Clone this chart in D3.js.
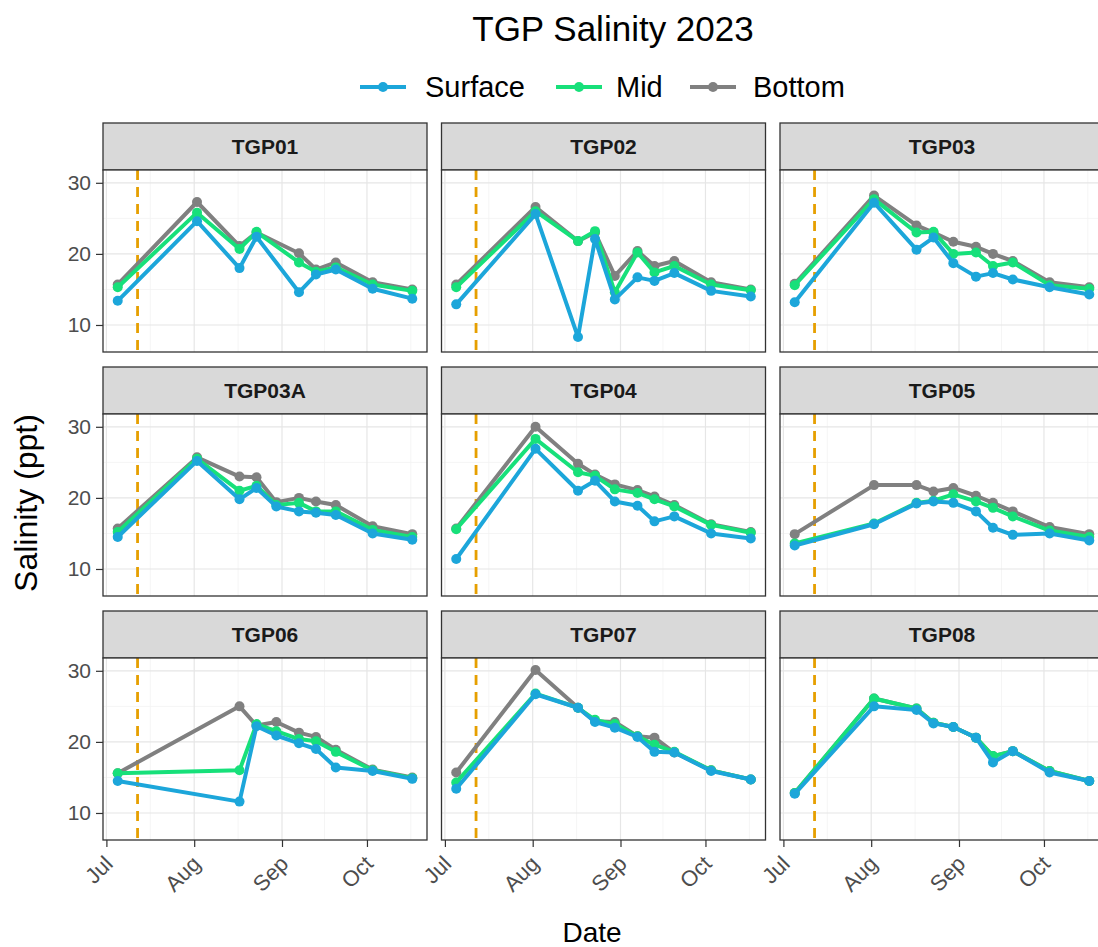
<!DOCTYPE html>
<html>
<head>
<meta charset="utf-8">
<script src="https://cdn.jsdelivr.net/npm/d3@7"></script>
<style>
  html, body { margin: 0; padding: 0; background: #ffffff; }
  svg { display: block; font-family: "Liberation Sans", Arial, sans-serif; }
</style>
</head>
<body>
<svg id="chart" width="1098" height="947"></svg>
<script>
// Sampling dates (same for every station; null = not sampled)
const sampleDates = ["2023-07-05", "2023-08-02", "2023-08-17", "2023-08-23", "2023-08-30",
                     "2023-09-07", "2023-09-13", "2023-09-20", "2023-10-03", "2023-10-17"];
const stations = ["TGP01", "TGP02", "TGP03", "TGP03A", "TGP04", "TGP05", "TGP06", "TGP07", "TGP08"];
const depths = ["Surface", "Mid", "Bottom"];
const depthColors = ["#1ca6da", "#17e07a", "#808080"];
const referenceDate = "2023-07-12";
const yTicks = [10, 20, 30];
const monthTicks = ["2023-07-01", "2023-08-01", "2023-09-01", "2023-10-01"];

// Salinity (ppt) per station, one row per station in the order above
const surfaceSalinity = [
  [13.4, 24.6, 18.0, 22.4, null, 14.6, 17.1, 17.8, 15.1, 13.7],
  [12.9, 25.6, 8.3, 22.1, 13.6, 16.7, 16.2, 17.3, 14.8, 14.0],
  [13.2, 27.2, 20.6, 22.3, 18.7, 16.8, 17.3, 16.4, 15.3, 14.3],
  [14.5, 25.2, 19.8, 21.4, 18.8, 18.1, 17.9, 17.6, 15.0, 14.1],
  [11.4, 26.9, 21.0, 22.4, 19.5, 18.9, 16.7, 17.4, 15.0, 14.3],
  [13.3, 16.3, 19.2, 19.5, 19.3, 18.1, 15.8, 14.8, 15.0, 14.0],
  [14.5, null, 11.6, 22.2, 20.9, 19.8, 19.0, 16.4, 15.9, 14.8],
  [13.4, 26.7, 24.8, 22.8, 22.0, 20.7, 18.6, 18.5, 15.9, 14.7],
  [12.7, 25.0, 24.5, 22.6, 22.1, 20.6, 17.1, 18.7, 15.7, 14.5]
];
const midSalinity = [
  [15.3, 25.8, 20.7, 23.1, null, 18.8, 17.5, 18.1, 15.7, 14.8],
  [15.3, 26.0, 21.8, 23.2, 14.6, 20.2, 17.4, 18.3, 15.7, 14.9],
  [15.6, 27.7, 23.0, 23.1, 20.0, 20.2, 18.3, 18.8, 15.6, 15.1],
  [15.2, 25.5, 21.0, 21.7, 19.0, 19.3, 18.1, 18.1, 15.5, 14.5],
  [15.6, 28.3, 23.6, 23.1, 21.2, 20.7, 19.8, 18.8, 16.2, 15.1],
  [13.6, 16.4, 19.3, 19.6, 20.5, 19.5, 18.6, 17.4, 15.4, 14.5],
  [15.6, null, 16.0, 22.5, 21.5, 20.4, 20.1, 18.6, 16.0, 14.9],
  [14.3, 26.8, 24.8, 23.1, 22.5, 20.8, 19.6, 18.6, 16.0, 14.7],
  [12.8, 26.1, 24.7, 22.7, 22.1, 20.6, 18.0, 18.7, 15.9, 14.5]
];
const bottomSalinity = [
  [15.7, 27.3, 21.1, 23.0, null, 20.1, 17.8, 18.8, 16.0, 15.0],
  [15.7, 26.6, 21.8, 23.0, 16.9, 20.4, 18.3, 19.0, 16.0, 15.0],
  [15.8, 28.2, 24.0, 23.0, 21.7, 21.0, 20.0, 19.0, 16.0, 15.3],
  [15.7, 25.7, 23.0, 22.9, 19.4, 20.0, 19.5, 19.0, 16.0, 14.9],
  [15.7, 30.0, 24.8, 23.3, 21.9, 21.1, 20.2, 19.0, 16.3, 15.2],
  [14.9, 21.8, 21.8, 20.9, 21.4, 20.3, 19.3, 18.1, 15.9, 14.9],
  [15.6, null, 25.0, 22.3, 22.8, 21.3, 20.7, 18.9, 16.1, 15.0],
  [15.7, 30.1, 24.8, 22.9, 22.8, 20.8, 20.6, 18.5, 16.0, 14.7],
  [12.8, 26.1, 24.7, 22.7, 22.1, 20.6, 18.0, 18.7, 15.9, 14.5]
];

const parse = d3.timeParse("%Y-%m-%d");
const dates = sampleDates.map(parse);
const seriesByDepth = [surfaceSalinity, midSalinity, bottomSalinity];

// ---- layout (facet grid 3 x 3) ----
const svg = d3.select("#chart");
const colLeft = [103, 441.5, 780];
const rowTop = [123, 367, 611];
const panelW = 324, stripH = 47, plotH = 182;

// shared scales, time axis padded by 5% on each side
const dExt = d3.extent(dates);
const pad = (dExt[1] - dExt[0]) * 0.05;
const x = d3.scaleTime()
  .domain([new Date(+dExt[0] - pad), new Date(+dExt[1] + pad)])
  .range([0, panelW]);
const y = d3.scaleLinear().domain([6.2, 31.8]).range([plotH, 0]);

const majorX = monthTicks.map(parse);
const minorX = [];
for (let i = 0; i < majorX.length; i++) {
  const next = i + 1 < majorX.length ? majorX[i + 1] : d3.timeMonth.offset(majorX[i], 1);
  minorX.push(new Date((+majorX[i] + +next) / 2));
}
const minorY = [15, 25];

// title
svg.append("text")
  .attr("x", 613).attr("y", 41)
  .attr("text-anchor", "middle")
  .attr("font-size", 35)
  .attr("fill", "#000")
  .text("TGP Salinity 2023");

// legend
const legendItems = [
  { label: depths[0], color: depthColors[0], x0: 360, tx: 425 },
  { label: depths[1], color: depthColors[1], x0: 556, tx: 616 },
  { label: depths[2], color: depthColors[2], x0: 690, tx: 753 }
];
const lg = svg.append("g");
legendItems.forEach(it => {
  lg.append("line").attr("x1", it.x0).attr("x2", it.x0 + 46)
    .attr("y1", 87).attr("y2", 87)
    .attr("stroke", it.color).attr("stroke-width", 4);
  lg.append("circle").attr("cx", it.x0 + 23).attr("cy", 87).attr("r", 5).attr("fill", it.color);
  lg.append("text").attr("x", it.tx).attr("y", 97)
    .attr("font-size", 29).attr("fill", "#000").text(it.label);
});

// axis titles
svg.append("text")
  .attr("transform", "translate(37,503) rotate(-90)")
  .attr("text-anchor", "middle")
  .attr("font-size", 32)
  .attr("fill", "#000")
  .text("Salinity (ppt)");
svg.append("text")
  .attr("x", 592).attr("y", 942)
  .attr("text-anchor", "middle")
  .attr("font-size", 28)
  .attr("fill", "#000")
  .text("Date");

const line = d3.line()
  .defined(d => d.v != null)
  .x(d => x(d.date))
  .y(d => y(d.v));

stations.forEach((name, si) => {
  const col = si % 3, row = Math.floor(si / 3);
  const gx = colLeft[col], gy = rowTop[row];
  const g = svg.append("g").attr("transform", `translate(${gx},${gy})`);

  // strip
  g.append("rect").attr("x", 0).attr("y", 0).attr("width", panelW).attr("height", stripH)
    .attr("fill", "#d9d9d9").attr("stroke", "#333333").attr("stroke-width", 1.3);
  g.append("text").attr("x", panelW / 2).attr("y", stripH / 2 + 7.5)
    .attr("text-anchor", "middle").attr("font-size", 21).attr("font-weight", "bold")
    .attr("fill", "#1a1a1a").text(name);

  const p = g.append("g").attr("transform", `translate(0,${stripH})`);
  p.append("rect").attr("width", panelW).attr("height", plotH).attr("fill", "#fff");

  // grid
  p.selectAll(".gminx").data(minorX).join("line")
    .attr("x1", d => x(d)).attr("x2", d => x(d)).attr("y1", 0).attr("y2", plotH)
    .attr("stroke", "#f2f2f2").attr("stroke-width", 0.8);
  p.selectAll(".gminy").data(minorY).join("line")
    .attr("x1", 0).attr("x2", panelW).attr("y1", d => y(d)).attr("y2", d => y(d))
    .attr("stroke", "#f2f2f2").attr("stroke-width", 0.8);
  p.selectAll(".gmajx").data(majorX).join("line")
    .attr("x1", d => x(d)).attr("x2", d => x(d)).attr("y1", 0).attr("y2", plotH)
    .attr("stroke", "#e6e6e6").attr("stroke-width", 1.2);
  p.selectAll(".gmajy").data(yTicks).join("line")
    .attr("x1", 0).attr("x2", panelW).attr("y1", d => y(d)).attr("y2", d => y(d))
    .attr("stroke", "#e6e6e6").attr("stroke-width", 1.2);

  // reference date marker
  const rx = x(parse(referenceDate));
  p.append("line").attr("x1", rx).attr("x2", rx).attr("y1", 0).attr("y2", plotH)
    .attr("stroke", "#e69f00").attr("stroke-width", 2.8).attr("stroke-dasharray", "10,7");

  // series: Bottom first, Surface drawn last
  [2, 1, 0].forEach(di => {
    const vals = seriesByDepth[di][si];
    const pts = dates.map((d, i) => ({ date: d, v: vals[i] }));
    const present = pts.filter(d => d.v != null);
    p.append("path").datum(present)
      .attr("d", line)
      .attr("fill", "none").attr("stroke", depthColors[di])
      .attr("stroke-width", 4).attr("stroke-linejoin", "round");
    p.selectAll(null).data(present).join("circle")
      .attr("cx", d => x(d.date)).attr("cy", d => y(d.v)).attr("r", 5)
      .attr("fill", depthColors[di]);
  });

  // panel border
  p.append("rect").attr("width", panelW).attr("height", plotH)
    .attr("fill", "none").attr("stroke", "#333333").attr("stroke-width", 1.3);

  // y axis on left column
  if (col === 0) {
    const ya = d3.axisLeft(y).tickValues(yTicks).tickSize(7).tickPadding(5);
    const ag = p.append("g").call(ya);
    ag.select(".domain").remove();
    ag.selectAll(".tick line").attr("stroke", "#333").attr("stroke-width", 1.2);
    ag.selectAll(".tick text").attr("font-size", 21).attr("fill", "#4d4d4d")
      .attr("font-family", "Liberation Sans, Arial, sans-serif");
  }
  // x axis on bottom row, labels turned 45 degrees
  if (row === 2) {
    const xa = d3.axisBottom(x).tickValues(majorX).tickFormat(d3.timeFormat("%b"))
      .tickSize(7).tickPadding(4);
    const ag = p.append("g").attr("transform", `translate(0,${plotH})`).call(xa);
    ag.select(".domain").remove();
    ag.selectAll(".tick line").attr("stroke", "#333").attr("stroke-width", 1.2);
    ag.selectAll(".tick text")
      .attr("font-size", 22).attr("fill", "#4d4d4d")
      .attr("font-family", "Liberation Sans, Arial, sans-serif")
      .attr("text-anchor", "end")
      .attr("x", 0).attr("y", 0)
      .attr("dy", "0.72em")
      .attr("transform", "translate(-4,14) rotate(-45)");
  }
});
</script>
</body>
</html>
